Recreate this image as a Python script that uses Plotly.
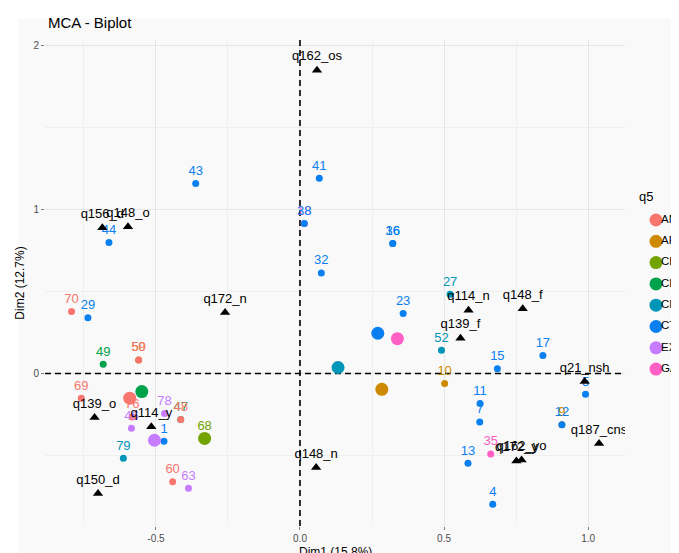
import plotly.graph_objects as go

# ---------------- data ----------------
groups = ["AN", "AR", "CB", "CL", "CM", "CT", "EX", "GA"]
group_colors = ["#F8766D", "#CD8A00", "#72A300", "#00A24C", "#0096B8", "#0A80F0", "#C77CFF", "#FF5FC4"]

ind_labels = ["1", "4", "5", "7", "9", "10", "11", "12", "13", "15", "16", "17", "18", "23", "27",
              "29", "32", "35", "36", "38", "41", "43", "44", "46", "47", "48", "49", "52", "50",
              "59", "60", "63", "68", "69", "70", "76", "78", "79"]
ind_group = ["CT", "CT", "CT", "CT", "AR", "AR", "CT", "CT", "CT", "CT", "CT", "CT", "GA", "CT", "CM",
             "CT", "CT", "GA", "CT", "CT", "CT", "CT", "CT", "EX", "CL", "AN", "CL", "CM", "AR",
             "AN", "AN", "EX", "CB", "AN", "AN", "AN", "EX", "CM"]
ind_x = [-0.472, 0.669, 0.991, 0.624, 0.909, 0.502, 0.625, 0.909, 0.583, 0.685, 0.322, 0.843, 0.015, 0.358, 0.521,
         -0.736, 0.074, 0.662, 0.322, 0.015, 0.067, -0.362, -0.663, -0.585, -0.414, -0.414, -0.683, 0.491, -0.560,
         -0.560, -0.442, -0.387, -0.331, -0.759, -0.793, -0.582, -0.470, -0.613]
ind_y = [-0.413, -0.797, -0.126, -0.295, -0.313, -0.061, -0.183, -0.313, -0.547, 0.030, 0.793, 0.110, 0.916, 0.366, 0.484,
         0.341, 0.614, -0.490, 0.793, 0.916, 1.191, 1.159, 0.800, -0.333, -0.280, -0.280, 0.057, 0.142, 0.083,
         0.083, -0.660, -0.700, -0.396, -0.150, 0.378, -0.265, -0.244, -0.516]

centroid_x = [-0.591, 0.284, -0.331, -0.549, 0.132, 0.270, -0.505, 0.338]
centroid_y = [-0.150, -0.096, -0.396, -0.110, 0.037, 0.246, -0.407, 0.213]

var_labels = ["q156_d", "q148_o", "q162_os", "q172_n", "q114_n", "q148_f", "q139_f", "q21_nsh",
              "q139_o", "q114_y", "q150_d", "q148_n", "q172_y", "q162_yo", "q187_cns"]
var_x = [-0.686, -0.597, 0.059, -0.260, 0.585, 0.773, 0.557, 0.988,
         -0.713, -0.516, -0.701, 0.056, 0.751, 0.769, 1.038]
var_y = [0.890, 0.896, 1.851, 0.372, 0.386, 0.396, 0.215, -0.049,
         -0.268, -0.325, -0.732, -0.573, -0.533, -0.527, -0.427]

x_ticks = [-0.5, 0.0, 0.5, 1.0]
x_ticklabels = ["-0.5", "0.0", "0.5", "1.0"]
y_ticks = [0, 1, 2]
y_ticklabels = ["0", "1", "2"]
x_range = [-0.885, 1.128]
y_range = [-0.93, 2.035]

# ---------------- figure ----------------
FONT = "Liberation Sans, Arial, Helvetica, sans-serif"
cmap = dict(zip(groups, group_colors))
ind_colors = [cmap[g] for g in ind_group]

W, H = 679, 553
L, T, B = 37, 32, 35
PANEL_RIGHT = 617                     # right edge of the data panel, px
PW, PH = W - L, H - T - B             # paper (whole area right of the left margin)
main_domain = [0, (PANEL_RIGHT - L) / PW]


def px_x(p):
    return (p - L) / PW


def px_y(p):
    return (H - B - p) / PH


fig = go.Figure()

# individuals (points + labels), drawn in row order
fig.add_trace(go.Scatter(
    x=ind_x, y=ind_y, mode="markers+text", text=ind_labels,
    textposition="top center",
    textfont=dict(family=FONT, size=13, color=ind_colors),
    marker=dict(size=7, color=ind_colors, line=dict(width=0)),
    showlegend=False, hoverinfo="skip", cliponaxis=True,
))

# group centroids (larger points)
fig.add_trace(go.Scatter(
    x=centroid_x, y=centroid_y, mode="markers",
    marker=dict(size=13, color=group_colors, line=dict(width=0)),
    showlegend=False, hoverinfo="skip",
))

# variable categories
fig.add_trace(go.Scatter(
    x=var_x, y=var_y, mode="markers+text", text=var_labels,
    textposition="top center",
    textfont=dict(family=FONT, size=13, color="black"),
    marker=dict(symbol="triangle-up", size=9, color="black", line=dict(width=0)),
    showlegend=False, hoverinfo="skip", cliponaxis=True,
))

# legend on a hidden pixel-unit subplot spanning the full width, so it runs off the right edge
leg_y = [212 + i * 21.3 for i in range(len(groups))]
fig.add_trace(go.Scatter(
    x=[648] * len(groups), y=leg_y, mode="markers", xaxis="x2", yaxis="y2",
    marker=dict(size=13, color=group_colors, line=dict(width=0)),
    showlegend=False, hoverinfo="skip", cliponaxis=False,
))
fig.add_trace(go.Scatter(
    x=[653] * len(groups), y=leg_y, mode="text", text=groups, xaxis="x2", yaxis="y2",
    textposition="middle right", textfont=dict(family=FONT, size=11.5, color="black"),
    showlegend=False, hoverinfo="skip", cliponaxis=False,
))
fig.add_trace(go.Scatter(
    x=[631], y=[190], mode="text", text=["q5"], xaxis="x2", yaxis="y2",
    textposition="middle right", textfont=dict(family=FONT, size=13, color="black"),
    showlegend=False, hoverinfo="skip", cliponaxis=False,
))

grid_col = "#E6E6E6"
fig.update_layout(
    width=W, height=H,
    margin=dict(l=L, r=0, t=T, b=B, pad=0),
    paper_bgcolor="white",
    plot_bgcolor="rgba(0,0,0,0)",
    font=dict(family=FONT, color="black"),
    showlegend=False,
    xaxis=dict(
        domain=main_domain, anchor="y", automargin=False,
        range=x_range, tickvals=x_ticks, ticktext=x_ticklabels,
        showgrid=True, gridcolor=grid_col, gridwidth=1,
        minor=dict(tickvals=[-0.75, -0.25, 0.25, 0.75], showgrid=True, gridcolor="#EFEFEF", gridwidth=1),
        zeroline=False, showline=False,
        ticks="outside", ticklen=3, tickcolor="#7F7F7F", tickwidth=1,
        tickfont=dict(size=10, color="#4D4D4D"),
    ),
    yaxis=dict(
        domain=[0, 1], anchor="x", automargin=False,
        range=y_range, tickvals=y_ticks, ticktext=y_ticklabels,
        showgrid=True, gridcolor=grid_col, gridwidth=1,
        minor=dict(tickvals=[-0.5, 0.5, 1.5], showgrid=True, gridcolor="#EFEFEF", gridwidth=1),
        zeroline=False, showline=False,
        ticks="outside", ticklen=3, tickcolor="#7F7F7F", tickwidth=1,
        tickfont=dict(size=10, color="#4D4D4D"),
        title=dict(text="Dim2 (12.7%)", font=dict(size=12, color="black"), standoff=6),
    ),
    xaxis2=dict(domain=[0, 1], anchor="y2", range=[L, W], visible=False, fixedrange=True, automargin=False),
    yaxis2=dict(domain=[0, 1], anchor="x2", range=[H - B, T], visible=False, fixedrange=True, automargin=False),
    shapes=[
        dict(type="rect", xref="paper", yref="paper",
             x0=px_x(10), x1=px_x(W), y0=px_y(H), y1=px_y(11),
             fillcolor="#F9F9F9", line=dict(width=0), layer="below"),
        dict(type="line", xref="x", yref="y", x0=0, x1=0, y0=y_range[0], y1=y_range[1],
             line=dict(color="black", width=1.6, dash="6px,4px"), layer="between"),
        dict(type="line", xref="x", yref="y", x0=x_range[0], x1=x_range[1], y0=0, y1=0,
             line=dict(color="black", width=1.6, dash="6px,4px"), layer="between"),
    ],
    annotations=[
        dict(text="MCA - Biplot", xref="paper", yref="paper",
             x=px_x(38), xanchor="left", y=px_y(15), yanchor="middle",
             showarrow=False, font=dict(size=15, color="black")),
        dict(text="Dim1 (15.8%)", xref="paper", yref="paper",
             x=main_domain[1] / 2, xanchor="center", y=px_y(544), yanchor="middle",
             showarrow=False, font=dict(size=12, color="black")),
    ],
)

fig.write_html("out.html")
